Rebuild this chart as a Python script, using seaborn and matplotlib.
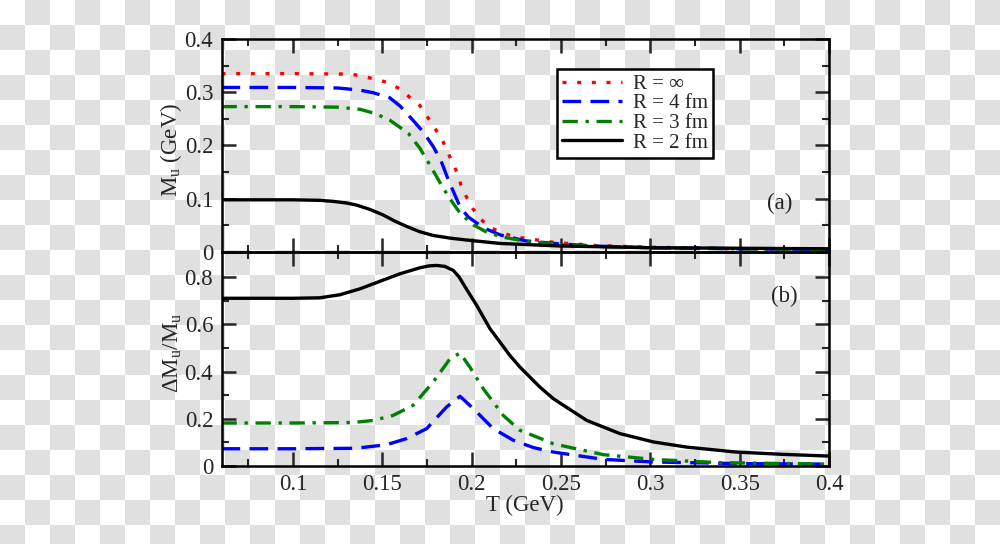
import numpy as np
import pandas as pd
import matplotlib.pyplot as plt
from matplotlib.colors import ListedColormap
from matplotlib.ticker import MultipleLocator
import seaborn as sns

# ---- data ----
# panel (a): constituent quark mass M_u (GeV) vs T (GeV)
T_inf = [0.06, 0.10, 0.133, 0.147, 0.153, 0.160, 0.1655, 0.171, 0.175, 0.179, 0.183, 0.186, 0.189, 0.192,
         0.194, 0.197, 0.2005, 0.205, 0.210, 0.223, 0.246, 0.27, 0.30, 0.35, 0.40]
M_inf = [0.335, 0.335, 0.334, 0.324, 0.318, 0.306, 0.290, 0.275, 0.255, 0.234, 0.215, 0.192, 0.170, 0.148,
         0.126, 0.104, 0.082, 0.062, 0.046, 0.029, 0.018, 0.012, 0.009, 0.006, 0.005]

T_4 = [0.06, 0.10, 0.125, 0.1375, 0.145, 0.154, 0.160, 0.167, 0.173, 0.1785, 0.183, 0.187, 0.1905, 0.1935,
       0.198, 0.203, 0.209, 0.216, 0.23, 0.25, 0.27, 0.30, 0.35, 0.40]
M_4 = [0.309, 0.309, 0.308, 0.304, 0.299, 0.290, 0.274, 0.248, 0.225, 0.198, 0.170, 0.135, 0.108, 0.085,
       0.066, 0.054, 0.042, 0.032, 0.021, 0.015, 0.011, 0.008, 0.006, 0.005]

T_3 = [0.06, 0.10, 0.125, 0.1375, 0.146, 0.154, 0.1645, 0.171, 0.1767, 0.182, 0.187, 0.1935, 0.2009, 0.208,
       0.216, 0.23, 0.25, 0.27, 0.30, 0.35, 0.40]
M_3 = [0.273, 0.273, 0.272, 0.268, 0.260, 0.248, 0.223, 0.195, 0.163, 0.132, 0.104, 0.073, 0.051, 0.038,
       0.029, 0.020, 0.014, 0.011, 0.008, 0.006, 0.005]

T_2 = [0.06, 0.10, 0.115, 0.1226, 0.13, 0.1357, 0.143, 0.1505, 0.157, 0.1636, 0.171, 0.1785, 0.188, 0.197,
       0.216, 0.249, 0.30, 0.35, 0.40]
M_2 = [0.098, 0.098, 0.097, 0.095, 0.092, 0.088, 0.080, 0.0695, 0.058, 0.048, 0.038, 0.031, 0.026, 0.0225,
       0.016, 0.0113, 0.008, 0.007, 0.006]

# panel (b): relative mass shift dM_u/M_u vs T (GeV)
Tb_2 = [0.06, 0.10, 0.115, 0.1263, 0.1375, 0.1487, 0.160, 0.171, 0.176, 0.1804, 0.185, 0.1897, 0.193, 0.197,
        0.2028, 0.2103, 0.2214, 0.227, 0.2382, 0.2457, 0.2644, 0.283, 0.3016, 0.3203, 0.348, 0.375, 0.40]
dM_2 = [0.710, 0.710, 0.712, 0.725, 0.750, 0.782, 0.814, 0.839, 0.847, 0.849, 0.845, 0.828, 0.800, 0.750,
        0.680, 0.581, 0.468, 0.419, 0.334, 0.285, 0.193, 0.137, 0.102, 0.080, 0.059, 0.049, 0.042]

Tb_3 = [0.06, 0.10, 0.1336, 0.145, 0.156, 0.1673, 0.1785, 0.1879, 0.1935, 0.199, 0.2065, 0.2177, 0.227,
        0.2364, 0.2457, 0.2737, 0.3016, 0.339, 0.40]
dM_3 = [0.182, 0.182, 0.184, 0.193, 0.214, 0.257, 0.356, 0.454, 0.478, 0.419, 0.327, 0.214, 0.151,
        0.123, 0.094, 0.048, 0.028, 0.014, 0.008]

Tb_4 = [0.06, 0.10, 0.135, 0.1524, 0.1636, 0.1748, 0.186, 0.1935, 0.2009, 0.2121, 0.2233, 0.2345, 0.2457,
        0.2737, 0.3016, 0.35, 0.40]
dM_4 = [0.073, 0.073, 0.075, 0.090, 0.116, 0.158, 0.250, 0.295, 0.243, 0.158, 0.109, 0.078, 0.059,
        0.028, 0.017, 0.010, 0.008]

labels = ["R = \u221e", "R = 4 fm", "R = 3 fm", "R = 2 fm"]
colors = ["red", "blue", "green", "black"]
styles = [(0, (1.2, 3.2)), (0, (5.6, 2.8)), (0, (4.6, 2.3, 1.0, 2.3)), "-"]

sns.set_style("ticks")
plt.rcParams["font.family"] = ["Liberation Serif", "DejaVu Serif"]
plt.rcParams["mathtext.fontset"] = "custom"
plt.rcParams["mathtext.rm"] = "Liberation Serif"
plt.rcParams["mathtext.it"] = "Liberation Serif:italic"

fs = 16.5

fig = plt.figure(figsize=(10, 5.44), dpi=100)

# transparent-png style checkerboard behind everything
bg = fig.add_axes([0, 0, 1, 1], zorder=-10)
board = np.indices((22, 40)).sum(axis=0) % 2
bg.imshow(board, cmap=ListedColormap(["white", "#e0e0e0"]), extent=(0, 1000, 550, 0),
          interpolation="nearest", aspect="auto")
bg.set_xlim(0, 1000)
bg.set_ylim(544, 0)
bg.axis("off")

ax1 = fig.add_axes([0.2215, 0.5368, 0.6075, 0.3915])
ax2 = fig.add_axes([0.2215, 0.1434, 0.6075, 0.3934])

lw = 2.4
top_sets = [(T_inf, M_inf), (T_4, M_4), (T_3, M_3), (T_2, M_2)]
for (t, m), lab, c, ls in zip(top_sets, labels, colors, styles):
    sns.lineplot(x=t, y=m, ax=ax1, color=c, linestyle=ls, lw=lw, label=lab)

bot_sets = [(Tb_4, dM_4, 1), (Tb_3, dM_3, 2), (Tb_2, dM_2, 3)]
for t, d, i in bot_sets:
    sns.lineplot(x=t, y=d, ax=ax2, color=colors[i], linestyle=styles[i], lw=lw)

for ax in (ax1, ax2):
    ax.set_facecolor("none")
    ax.set_xlim(0.06, 0.4)
    ax.xaxis.set_major_locator(MultipleLocator(0.05))
    ax.xaxis.set_minor_locator(MultipleLocator(0.025))
    ax.tick_params(which="both", direction="in", top=True, right=True, labelsize=fs, pad=6)
    ax.tick_params(which="major", length=10, width=1.8)
    ax.tick_params(which="minor", length=5, width=1.5)
    for s in ax.spines.values():
        s.set_linewidth(1.8)
        s.set_color("black")

ax1.set_ylim(0, 0.4)
ax1.yaxis.set_major_locator(MultipleLocator(0.1))
ax1.yaxis.set_minor_locator(MultipleLocator(0.05))
ax1.set_yticks([0, 0.1, 0.2, 0.3, 0.4], ["0", "0.1", "0.2", "0.3", "0.4"])
ax1.tick_params(axis="x", labelbottom=False)
ax1.set_xlabel("")
ax1.set_ylabel(r"M$_\mathrm{u}$ (GeV)", fontsize=fs)

ax2.set_ylim(0, 0.906)
ax2.set_yticks([0, 0.2, 0.4, 0.6, 0.8], ["0", "0.2", "0.4", "0.6", "0.8"])
ax2.yaxis.set_minor_locator(MultipleLocator(0.1))
ax2.set_xticks([0.1, 0.15, 0.2, 0.25, 0.3, 0.35, 0.4], ["0.1", "0.15", "0.2", "0.25", "0.3", "0.35", "0.4"])
ax2.set_xlabel("T (GeV)", fontsize=fs, labelpad=0)
ax2.set_ylabel("\u0394M$_\\mathrm{u}$/M$_\\mathrm{u}$", fontsize=fs)

ax1.yaxis.set_label_coords(-0.062, 0.48)
ax2.yaxis.set_label_coords(-0.062, 0.53)

leg = ax1.legend(loc="upper left", bbox_to_anchor=(0.552, 0.859), borderaxespad=0, fontsize=15,
                 handlelength=2.9, handletextpad=0.5, labelspacing=0.0, borderpad=0.25,
                 fancybox=False, framealpha=1, edgecolor="black")
leg.get_frame().set_linewidth(1.8)

ax1.text(0.919, 0.23, "(a)", transform=ax1.transAxes, fontsize=fs, ha="center", va="center")
ax2.text(0.927, 0.794, "(b)", transform=ax2.transAxes, fontsize=fs, ha="center", va="center")

fig.savefig("out.png", dpi=100)
